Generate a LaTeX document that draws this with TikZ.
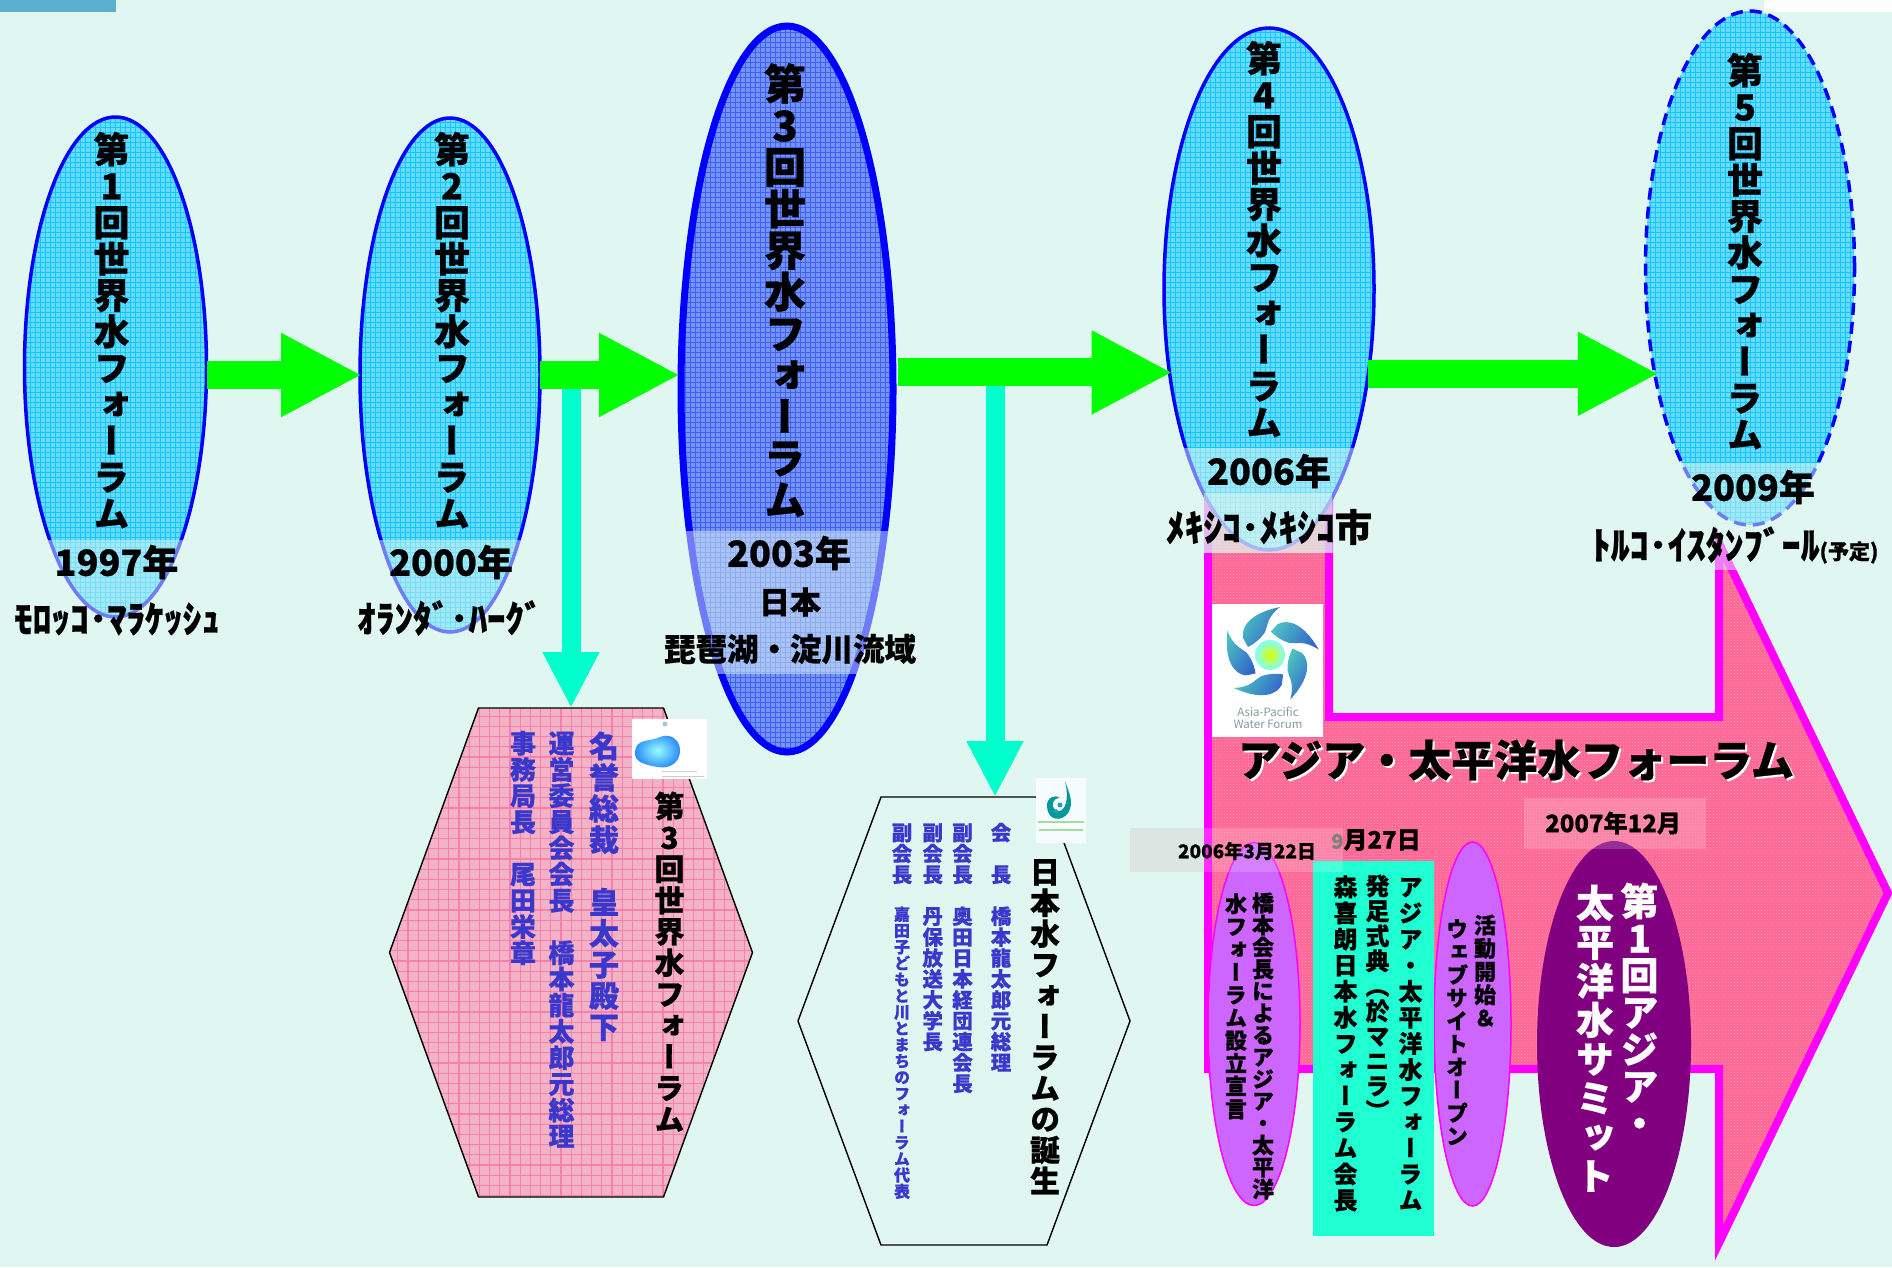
\documentclass[tikz,border=0pt]{standalone}
\usepackage{fontspec}
\setmainfont{Noto Sans CJK JP}[BoldFeatures={FakeBold=0.6}]
\newfontfamily\jpv{Noto Sans CJK JP}[RawFeature=+vert,BoldFeatures={FakeBold=0.6}]
\usetikzlibrary{arrows.meta,patterns,shapes.geometric,shadings}

\definecolor{cbg}{HTML}{DFF6F1}
\definecolor{ccyan}{HTML}{6ADBFF}
\definecolor{cgrid}{HTML}{0CC8FF}
\definecolor{cblue}{HTML}{7494FA}
\definecolor{cbluegrid}{HTML}{4060F4}
\definecolor{chexpink}{HTML}{F2B2C8}
\definecolor{chexgrid}{HTML}{FA80A8}
\definecolor{cpink}{HTML}{FF6A98}
\definecolor{cpinkdot}{HTML}{FF8FB0}
\definecolor{cmag}{HTML}{FF00FF}
\definecolor{cmint}{HTML}{00FFCC}
\definecolor{cpurple}{HTML}{CC66FF}
\definecolor{cdeep}{HTML}{800080}
\definecolor{cname}{HTML}{3A38CC}

\pgfdeclarepatternformonly{finegrid}{\pgfqpoint{-1pt}{-1pt}}{\pgfqpoint{6pt}{6pt}}{\pgfqpoint{5pt}{5pt}}{%
  \pgfsetlinewidth{0.7pt}
  \pgfpathmoveto{\pgfqpoint{0pt}{0pt}}\pgfpathlineto{\pgfqpoint{5pt}{0pt}}
  \pgfpathmoveto{\pgfqpoint{0pt}{0pt}}\pgfpathlineto{\pgfqpoint{0pt}{5pt}}
  \pgfusepath{stroke}}
\pgfdeclarepatternformonly{widegrid}{\pgfqpoint{-1pt}{-1pt}}{\pgfqpoint{11pt}{11pt}}{\pgfqpoint{10.2pt}{10.2pt}}{%
  \pgfsetlinewidth{1.1pt}
  \pgfpathmoveto{\pgfqpoint{0pt}{0pt}}\pgfpathlineto{\pgfqpoint{10.2pt}{0pt}}
  \pgfpathmoveto{\pgfqpoint{0pt}{0pt}}\pgfpathlineto{\pgfqpoint{0pt}{10.2pt}}
  \pgfusepath{stroke}}
\pgfdeclarepatternformonly{finedots}{\pgfqpoint{0pt}{0pt}}{\pgfqpoint{3pt}{3pt}}{\pgfqpoint{3pt}{3pt}}{%
  \pgfpathrectangle{\pgfqpoint{0pt}{0pt}}{\pgfqpoint{1.2pt}{1.2pt}}
  \pgfusepath{fill}}

% one character per line, at a fixed pitch
\makeatletter
\newcommand\vtxt[2]{\vbox{\offinterlineskip\@tfor\vchar:=#2\do{%
  \hbox to #1{\vrule width 0pt height .88\dimexpr#1\relax depth .12\dimexpr#1\relax
    \hss\smash{\vchar}\hss}}}}
\makeatother
% six corners from the box of a node
\newcommand\hexpath[2]{(#1.west) -- ([xshift=#2]#1.north west) -- ([xshift=-#2]#1.north east) -- (#1.east)
  -- ([xshift=-#2]#1.south east) -- ([xshift=#2]#1.south west) -- cycle}

\tikzset{
  forum/.style={ellipse,inner sep=0pt,outer sep=0pt,draw=blue,line width=3.5pt,
    preaction={fill=ccyan},pattern=finegrid,pattern color=cgrid},
  greenarrow/.style={-{Triangle[length=81pt,width=78pt]},line width=28pt,draw=green},
  mintarrow/.style={-{Triangle[length=56pt,width=53pt]},line width=19pt,draw=cmint},
  hexbox/.style={inner sep=0pt,outer sep=0pt},
  hexline/.style={draw=black,line width=1.4pt},
  event/.style={ellipse,inner sep=0pt,outer sep=0pt,draw=cmag,line width=1.5pt,fill=cpurple},
  band/.style={fill=cbg,opacity=.5},
  haze/.style={fill=white,opacity=.18},
  vlab/.style={anchor=north,inner sep=0pt,outer sep=0pt,font=\jpv\bfseries\fontsize{#1}{#1}\selectfont},
  hlab/.style={inner sep=0pt,outer sep=0pt,font=\bfseries\fontsize{#1}{#1}\selectfont},
}

\begin{document}
\begin{tikzpicture}[x=1pt,y=-1pt]
\useasboundingbox (0,0) rectangle (1892,1267);
\fill[cbg] (0,0) rectangle (1892,1267);
\fill[cyan!55!teal!75] (0,0) rectangle (116,12);
\fill[white!85!cbg] (1764,0) rectangle (1892,12);

% big arrow behind everything
\draw[draw=cmag,line width=8pt,preaction={fill=cpink},pattern=finedots,pattern color=cpinkdot]
  (1208,502) -- (1329,502) -- (1329,717) -- (1719,717) -- (1719,543) -- (1888,893)
  -- (1719,1243) -- (1719,1069) -- (1208,1069) -- cycle;

% forums
\node[forum,minimum width=182pt,minimum height=500pt] (e1) at (115.5,367) {};
\node[forum,minimum width=180pt,minimum height=514pt] (e2) at (450,375) {};
\node[forum,minimum width=212pt,minimum height=726pt,line width=7pt,
  preaction={fill=cblue},pattern color=cbluegrid] (e3) at (787,389) {};
\node[forum,minimum width=210pt,minimum height=522pt] (e4) at (1269,289) {};
\node[forum,minimum width=209pt,minimum height=514pt,dash pattern=on 12pt off 7pt] (e5) at (1750,268) {};

% hexagons
\node[hexbox,minimum width=363pt,minimum height=489pt] (hexa) at (571,952.5) {};
\draw[hexline,preaction={fill=chexpink},pattern=widegrid,pattern color=chexgrid] \hexpath{hexa}{89pt};
\node[hexbox,minimum width=332pt,minimum height=448pt] (hexb) at (964,1021) {};
\draw[hexline] \hexpath{hexb}{83pt};

% connectors
\draw[mintarrow] (hexa.north |- e2.west) -- (hexa.north);
\draw[mintarrow] ([xshift=31pt]hexb.north |- e4.220) -- ([xshift=31pt]hexb.north);
\draw[greenarrow] (e1.east |- e2.west) -- ([xshift=2pt]e2.west);
\draw[greenarrow] (e2.east) -- ([xshift=-1pt]e2.east -| e3.west);
\draw[greenarrow] ([xshift=5pt]e3.east |- e4.220) -- ([xshift=3pt]e4.220);
\draw[greenarrow] (e4.320 |- e5.228) -- ([xshift=4pt]e5.228);

% pale bands over the ellipses
\fill[band] (20,540) rectangle (212,640);
\fill[band] (355,540) rectangle (545,640);
\fill[band] (675,531) rectangle (900,674);
\fill[band] (1160,448) rectangle (1380,553);
\fill[band] (1204,493) rectangle (1332,553);
\fill[band] (1640,463) rectangle (1860,570);

\node[vlab=36] (t1) at (111.5,131) {\vtxt{36.4pt}{第1回世界水フォーラム}};
\node[vlab=36] (t2) at (452,131) {\vtxt{36.4pt}{第2回世界水フォーラム}};
\node[vlab=42] (t3) at (785,63) {\vtxt{41.6pt}{第3回世界水フォーラム}};
\node[vlab=36] (t4) at (1264,40) {\vtxt{36.4pt}{第4回世界水フォーラム}};
\node[vlab=36] (t5) at (1745,52) {\vtxt{36.4pt}{第5回世界水フォーラム}};

\node[hlab=36] (y1) at (116.5,562) {1997年};
\node[hlab=36] (y2) at (451,562) {2000年};
\node[hlab=36] (y3) at (789,553) {2003年};
\node[hlab=36] (y4) at (1269,471) {2006年};
\node[hlab=36] (y5) at (1753,487) {2009年};
\node[hlab=37.5] (p1) at (117,619) {ﾓﾛｯｺ･ﾏﾗｹｯｼｭ};
\node[hlab=37] (p2) at (450,618) {ｵﾗﾝﾀﾞ･ﾊｰｸﾞ};
\node[hlab=31] (p3a) at (790,602) {日本};
\node[hlab=31.5] (p3b) at (790,649) {琵琶湖・淀川流域};
\node[hlab=37.5] (p4) at (1269,527) {ﾒｷｼｺ･ﾒｷｼｺ市};
\node[hlab=38] (p5) at (1735,545) {ﾄﾙｺ･ｲｽﾀﾝﾌﾞｰﾙ{\fontsize{21}{21}\selectfont (予定)}};

% text in the first hexagon
\node[vlab=30] (ha1) at (669.5,790) {\vtxt{31.3pt}{第3回世界水フォーラム}};
\node[vlab=30,text=cname] (ha2) at (604,730) {\vtxt{31.2pt}{名誉総裁~皇太子殿下}};
\node[vlab=26,text=cname] (ha3) at (561.5,730) {\vtxt{26.2pt}{運営委員会会長~橋本龍太郎元総理}};
\node[vlab=26,text=cname] (ha4) at (523,730) {\vtxt{26.2pt}{事務局長~尾田栄章}};

% text in the second hexagon
\node[vlab=30] (hb1) at (1045,856) {\vtxt{30.9pt}{日本水フォーラムの誕生}};
\node[vlab=20.5,text=cname] (hb2) at (1001,822) {\vtxt{20.9pt}{会~長~橋本龍太郎元総理}};
\node[vlab=20.5,text=cname] (hb3) at (962.5,822) {\vtxt{20.9pt}{副会長~奥田日本経団連会長}};
\node[vlab=20.5,text=cname] (hb4) at (932.7,822) {\vtxt{20.9pt}{副会長~丹保放送大学長}};
\node[vlab=20.5,text=cname] (hb5) at (902,822) {\vtxt{20.9pt}{副会長}};
\node[vlab=16,text=cname] (hb6) at (902,906) {\vtxt{16.3pt}{嘉田子どもと川とまちのフォーラム代表}};

% logos
\node[fill=white,inner sep=0pt,minimum width=75pt,minimum height=60pt] (logoa) at (669.5,749) {};
\shade[inner color=white!60!cyan,outer color=cyan!45!blue!85!white]
  (635,752) .. controls (636,738) and (650,742) .. (660,737) .. controls (672,732) and (681,742) .. (680,752)
  .. controls (679,764) and (668,769) .. (658,767) .. controls (645,765) and (634,762) .. (635,752) -- cycle;
\fill[cyan!40!gray!60] (665,724) circle (2.5pt);
\draw[gray!40,line width=1pt] (662,771) -- (697,771) (662,776) -- (704,776);

\node[fill=white!70!cbg,inner sep=0pt,minimum width=50pt,minimum height=65pt] (logob) at (1061,810.5) {};
\fill[teal!80!cyan] (1065,781) .. controls (1070,795) and (1074,803) .. (1068,813) .. controls (1062,822) and (1048,821) .. (1047,807)
  .. controls (1046,797) and (1056,794) .. (1060,798) .. controls (1052,798) and (1051,806) .. (1055,810)
  .. controls (1061,815) and (1071,806) .. (1065,781) -- cycle;
\fill[cyan!60!teal] (1060,805) circle (2.5pt) (1056,811) circle (2pt);
\draw[green!45!gray!50,line width=2pt] (1038,822) -- (1084,822) (1039,830) -- (1083,830);

\node[fill=white,inner sep=0pt,minimum width=111pt,minimum height=133pt] (logoc) at (1267.5,670.5) {};
\foreach \ang in {0,72,144,216,288}{
  \begin{scope}[shift={(1270,655)},rotate=\ang]
    \shade[left color=cyan!30!teal!70,right color=blue!50!teal!80,shading angle=60]
      (-27,-17) .. controls (-29,-28) and (-20,-42) .. (10,-48) .. controls (-3,-38) and (-2,-30) .. (-5,-23)
      .. controls (-10,-15) and (-18,-10) .. (-22,-8) -- cycle;
  \end{scope}}
\shade[inner color=yellow!85!green,outer color=cyan!50!white] (1270,655) circle (15pt);
\node[inner sep=0pt,text=cyan!20!gray,font=\fontsize{11.5}{11.5}\selectfont] (logoc1) at (1268,712) {Asia-Pacific};
\node[inner sep=0pt,text=cyan!20!gray,font=\fontsize{11.5}{11.5}\selectfont] (logoc2) at (1268,724) {Water Forum};

\node[hlab=43] (titleshadow) at (1518,762) {\textcolor{white}{アジア・太平洋水フォーラム}};
\node[hlab=43] (title) at (1516,760) {アジア・太平洋水フォーラム};

% events
\node[event,minimum width=92pt,minimum height=363pt] (ev1) at (1254,1024) {};
\node[event,minimum width=77pt,minimum height=364pt] (ev2) at (1472.5,1024) {};
\node[fill=cmint!88!white,inner sep=0pt,minimum width=120.5pt,minimum height=375pt] (ev3) at (1373.7,1048) {};
\node[ellipse,inner sep=0pt,fill=cdeep,minimum width=154pt,minimum height=406pt] (ev4) at (1614,1044) {};

\fill[gray!30,opacity=.55] (1130,828) rectangle (1204,872);
\fill[haze] (1204,828) rectangle (1343,872);
\fill[haze] (1524,798) rectangle (1706,849);

\node[hlab=19] (d1) at (1247,851) {2006年3月22日};
\node[hlab=24] (d2) at (1376,840) {{\color{gray}\fontsize{20}{20}\selectfont 9}月27日};
\node[hlab=24] (d3) at (1613,823) {2007年12月};

\node[vlab=22] (ev1a) at (1263,892) {\vtxt{22pt}{橋本会長によるアジア・太平洋}};
\node[vlab=22] (ev1b) at (1236,892) {\vtxt{22.8pt}{水フォーラム設立宣言}};
\node[vlab=24] (ev3a) at (1410.5,873) {\vtxt{26.1pt}{アジア・太平洋水フォーラム}};
\node[vlab=24] (ev3b) at (1377.5,873) {\vtxt{25pt}{発足式典（於マニラ）}};
\node[vlab=24] (ev3c) at (1345.5,873) {\vtxt{26.1pt}{森喜朗日本水フォーラム会長}};
\node[vlab=22] (ev2a) at (1485,913) {\vtxt{23.2pt}{活動開始＆}};
\node[vlab=22] (ev2b) at (1457,917) {\vtxt{23pt}{ウェブサイトオープン}};
\node[vlab=38,text=white] (ev4a) at (1639.5,883) {\vtxt{37pt}{第1回アジア・}};
\node[vlab=38,text=white] (ev4b) at (1595,883) {\vtxt{39pt}{太平洋水サミット}};
\end{tikzpicture}
\end{document}
